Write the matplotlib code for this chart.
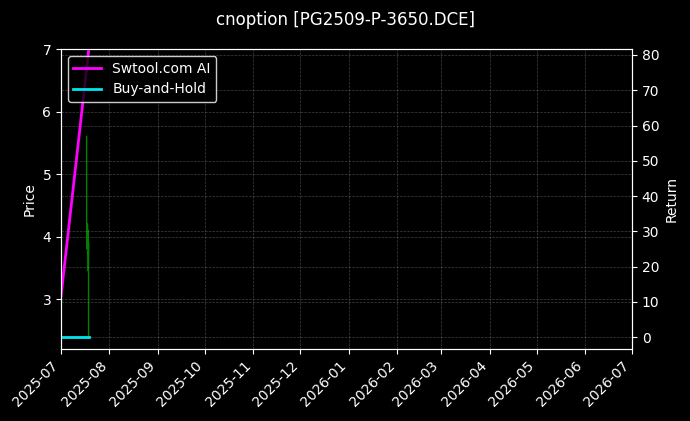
import matplotlib
matplotlib.use("Agg")
import matplotlib.pyplot as plt
import matplotlib.dates as mdates
import pandas as pd

title = "cnoption [PG2509-P-3650.DCE]"

price_times = ["2025-07-17 09:00", "2025-07-17 10:00", "2025-07-17 14:00", "2025-07-17 21:00",
               "2025-07-18 09:00", "2025-07-18 10:00", "2025-07-18 11:00", "2025-07-18 14:00",
               "2025-07-18 15:00"]
price_values = [5.6, 4.2, 3.8, 4.2, 3.7, 4.1, 3.45, 3.9, 2.4]

ai_times = ["2025-07-01 00:00", "2025-07-18 15:00"]
ai_values = [11.5, 81.0]

bh_times = ["2025-07-01 00:00", "2025-07-18 15:00"]
bh_values = [0.0, 0.0]

x_range = ["2025-07-01", "2026-07-01"]
price_lim = [2.2, 7.0]
return_lim = [-3.4, 81.7]

bg = "black"
fig = plt.figure(figsize=(6.9, 4.21), dpi=100, facecolor=bg)
ax = fig.add_subplot(111)
fig.subplots_adjust(left=0.0884, right=0.916, top=0.8836, bottom=0.171)
ax.set_facecolor(bg)
ax2 = ax.twinx()

ax.plot(pd.to_datetime(price_times), price_values, color="#008000", lw=1.0)
l1, = ax2.plot(pd.to_datetime(ai_times), ai_values, color="#ff00ff", lw=2, label="Swtool.com AI")
l2, = ax2.plot(pd.to_datetime(bh_times), bh_values, color="#00e5ee", lw=2, label="Buy-and-Hold")

ax.set_xlim(pd.to_datetime(x_range[0]), pd.to_datetime(x_range[1]))
ax.set_ylim(*price_lim)
ax2.set_ylim(*return_lim)
ax.set_yticks([3, 4, 5, 6, 7])
ax2.set_yticks(range(0, 81, 10))

ax.xaxis.set_major_locator(mdates.MonthLocator())
ax.xaxis.set_major_formatter(mdates.DateFormatter("%Y-%m"))
for lab in ax.get_xticklabels():
    lab.set_rotation(45)
    lab.set_ha("right")

for a in (ax, ax2):
    a.tick_params(colors="white", labelsize=10)
    for s in a.spines.values():
        s.set_color("white")
    a.grid(True, color="gray", ls="--", lw=0.5, alpha=0.5)

ax.set_ylabel("Price", color="white", fontsize=10)
ax2.set_ylabel("Return", color="white", fontsize=10)
fig.suptitle(title, color="white", fontsize=12, y=0.975)

leg = ax2.legend(handles=[l1, l2], loc="upper left", facecolor="black", edgecolor="white",
                 framealpha=0.8, fontsize=10)
for t in leg.get_texts():
    t.set_color("white")

fig.savefig("out.png", dpi=100, facecolor=bg)
